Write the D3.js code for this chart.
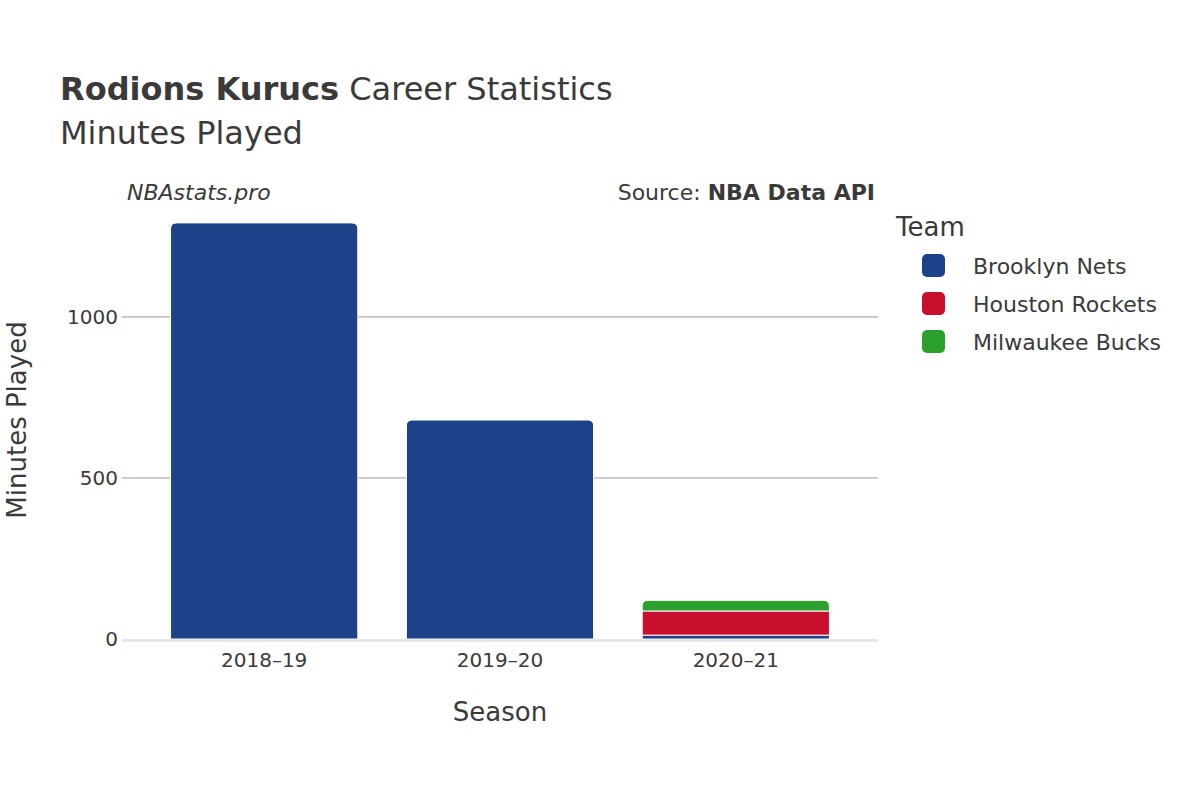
<!DOCTYPE html>
<html><head><meta charset="utf-8">
<script src="https://cdn.jsdelivr.net/npm/d3@7"></script>
<style>body{margin:0;background:#fff;font-family:"DejaVu Sans",sans-serif}</style>
</head><body><svg id="c" width="1200" height="800"></svg>
<script>
const seasons = ["2018–19", "2019–20", "2020–21"];
const teams = ["Brooklyn Nets", "Houston Rockets", "Milwaukee Bucks"];
const colors = ["#1d428a", "#c8102e", "#2ca02c"];
const nets = [1292, 680, 12];
const rockets = [0, 0, 75];
const bucks = [0, 0, 33];
const yTicks = [0, 500, 1000];

const svg = d3.select("#c");
const m = {l: 122, r: 878, t: 201, b: 639};
const x = d3.scaleBand().domain(seasons).range([m.l, m.r]).padding(0.206);
const y = d3.scaleLinear().domain([0, 1360]).range([m.b, m.t]);
const txt = "#3a3a3a";

svg.append("g").selectAll("line").data(yTicks.filter(d => d > 0)).join("line")
  .attr("x1", m.l).attr("x2", m.r).attr("y1", d => y(d)).attr("y2", d => y(d))
  .attr("stroke", "#999").attr("stroke-width", 1);

const rows = seasons.map((s, i) => ({season: s, "Brooklyn Nets": nets[i], "Houston Rockets": rockets[i], "Milwaukee Bucks": bucks[i]}));
const stack = d3.stack().keys(teams)(rows);
stack.forEach((layer, k) => {
  svg.append("g").selectAll("path").data(layer).join("path")
    .attr("fill", colors[k]).attr("stroke", "#fff").attr("stroke-width", 1)
    .attr("d", d => {
      const x0 = x(d.data.season), w = x.bandwidth();
      const y0 = y(d[0]), y1 = y(d[1]);
      if (y0 - y1 <= 0) return null;
      const top = teams.slice(k + 1).every(t => d.data[t] === 0);
      const r = top ? Math.min(6, y0 - y1) : 0;
      return `M${x0},${y0}V${y1 + r}Q${x0},${y1} ${x0 + r},${y1}H${x0 + w - r}Q${x0 + w},${y1} ${x0 + w},${y1 + r}V${y0}Z`;
    });
});

svg.append("line").attr("x1", m.l).attr("x2", m.r).attr("y1", m.b + 1.5).attr("y2", m.b + 1.5)
  .attr("stroke", "#e8e8ec").attr("stroke-width", 3);

svg.append("g").selectAll("text").data(yTicks).join("text")
  .attr("x", m.l - 4).attr("y", d => y(d) + 7).attr("text-anchor", "end")
  .attr("font-size", 20).attr("fill", txt).text(d => d);
svg.append("g").selectAll("text").data(seasons).join("text")
  .attr("x", d => x(d) + x.bandwidth() / 2).attr("y", 667).attr("text-anchor", "middle")
  .attr("font-size", 20).attr("fill", txt).text(d => d);

const t = svg.append("text").attr("x", 60).attr("y", 100).attr("font-size", 32).attr("fill", txt);
t.append("tspan").attr("font-weight", "bold").text("Rodions Kurucs");
t.append("tspan").text(" Career Statistics");
svg.append("text").attr("x", 60).attr("y", 144).attr("font-size", 32).attr("fill", txt).text("Minutes Played");
svg.append("text").attr("x", 127).attr("y", 200).attr("font-size", 22).attr("font-style", "italic").attr("fill", txt).text("NBAstats.pro");
const s = svg.append("text").attr("x", 875).attr("y", 200).attr("text-anchor", "end").attr("font-size", 22).attr("fill", txt);
s.append("tspan").text("Source: ");
s.append("tspan").attr("font-weight", "bold").text("NBA Data API");
svg.append("text").attr("x", 500).attr("y", 721).attr("text-anchor", "middle").attr("font-size", 26).attr("fill", txt).text("Season");
svg.append("text").attr("transform", "translate(26,420) rotate(-90)").attr("text-anchor", "middle").attr("font-size", 26).attr("fill", txt).text("Minutes Played");

svg.append("text").attr("x", 896).attr("y", 236).attr("font-size", 26).attr("fill", txt).text("Team");
const lg = svg.append("g").selectAll("g").data(teams).join("g").attr("transform", (d, i) => `translate(922,${254 + i * 38})`);
lg.append("rect").attr("width", 23).attr("height", 23).attr("rx", 5).attr("fill", (d, i) => colors[i]);
lg.append("text").attr("x", 51).attr("y", 20).attr("font-size", 22).attr("fill", txt).text(d => d);
</script></body></html>
